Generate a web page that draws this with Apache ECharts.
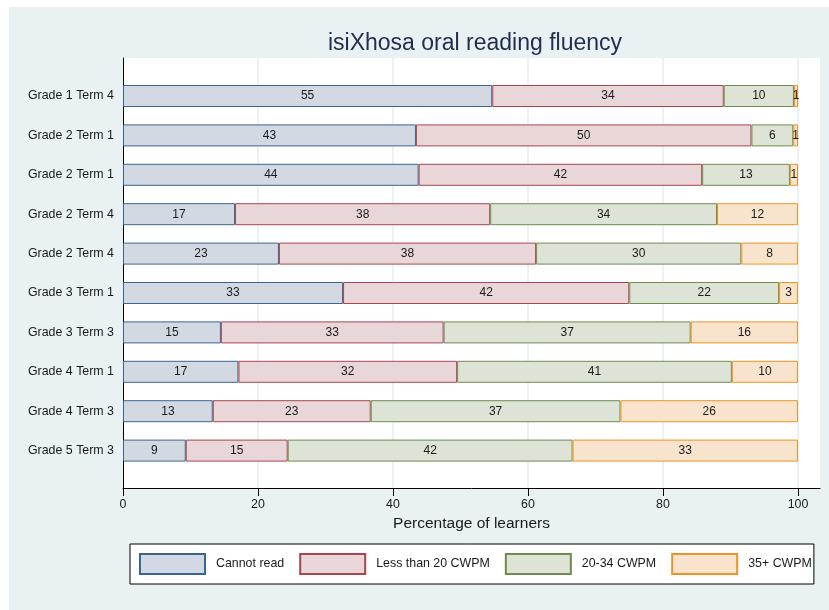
<!DOCTYPE html>
<html>
<head>
<meta charset="utf-8">
<script src="https://cdn.jsdelivr.net/npm/echarts@6/dist/echarts.min.js"></script>
<style>
  html, body { margin: 0; padding: 0; background: #fff; }
  #chart { width: 829px; height: 610px; }
</style>
</head>
<body>
<div id="chart"></div>
<script>
// rows, top to bottom
const categories = [
  "Grade 1 Term 4", "Grade 2 Term 1", "Grade 2 Term 1", "Grade 2 Term 4", "Grade 2 Term 4",
  "Grade 3 Term 1", "Grade 3 Term 3", "Grade 4 Term 1", "Grade 4 Term 3", "Grade 5 Term 3"
];
const cannotRead = [54.7, 43.4, 43.8, 16.6, 23.1, 32.6, 14.5, 17.1, 13.3, 9.3];
const lessThan20 = [34.3, 49.7, 42.0, 37.8, 38.1, 42.4, 33.0, 32.4, 23.4, 15.1];
const from20to34 = [10.4, 6.2, 13.0, 33.6, 30.4, 22.2, 36.6, 40.7, 37.0, 42.2];
const over35 = [0.6, 0.7, 1.2, 12.0, 8.4, 2.8, 15.9, 9.8, 26.3, 33.4];
const xTicks = [0, 20, 40, 60, 80, 100];

const font = "'Liberation Sans', Arial, Helvetica, sans-serif";
const xMax = 697 / 6.75;

function barSeries(name, data, fill, border) {
  return {
    name: name,
    type: "bar",
    stack: "total",
    xAxisIndex: 1,
    yAxisIndex: 1,
    barWidth: 22,
    data: data,
    itemStyle: { color: fill, borderColor: border, borderWidth: 1 },
    label: {
      show: true,
      position: "inside",
      color: "#1a1a1a",
      fontFamily: font,
      fontSize: 12,
      formatter: (p) => Math.round(p.value)
    }
  };
}

const chart = echarts.init(document.getElementById("chart"));

chart.setOption({
  backgroundColor: "#fff",
  animation: false,
  graphic: [{
    type: "rect",
    z: -10,
    shape: { x: 9, y: 7, width: 820, height: 603 },
    style: { fill: "#eaf1f3" }
  }],
  title: {
    text: "isiXhosa oral reading fluency",
    left: 470,
    textAlign: "center",
    top: 27,
    textStyle: { fontFamily: font, fontSize: 23, fontWeight: "normal", color: "#1f2d4e" }
  },
  legend: {
    left: 130,
    top: 544,
    padding: [9, 2, 9, 9],
    itemWidth: 65,
    itemHeight: 20,
    itemGap: 15,
    backgroundColor: "#fff",
    borderColor: "#000",
    borderWidth: 1,
    borderRadius: 0,
    icon: "rect",
    textStyle: { fontFamily: font, fontSize: 12.4, color: "#1a1a1a", padding: [0, 0, 0, 6] },
    data: ["Cannot read", "Less than 20 CWPM", "20-34 CWPM", "35+ CWPM"]
  },
  grid: [
    { left: 123, top: 58, width: 697, height: 430, show: true, backgroundColor: "#fff", borderWidth: 0 },
    { left: 123, top: 76.3, width: 697, height: 394 }
  ],
  xAxis: [
    {
      gridIndex: 0,
      type: "value",
      min: 0,
      max: xMax,
      name: "Percentage of learners",
      nameLocation: "middle",
      nameGap: 27,
      nameTextStyle: { fontFamily: font, fontSize: 15.5, color: "#1a1a1a" },
      axisLine: { show: true, onZero: false, lineStyle: { color: "#000", width: 1 } },
      axisTick: { show: true, length: 8, customValues: xTicks, lineStyle: { color: "#000" } },
      axisLabel: { customValues: xTicks, margin: 11, fontFamily: font, fontSize: 12.4, color: "#1a1a1a" },
      splitLine: { show: true, lineStyle: { color: "#e6eef1", width: 1.5 } }
    },
    { gridIndex: 1, type: "value", min: 0, max: xMax, show: false }
  ],
  yAxis: [
    {
      gridIndex: 0,
      type: "value",
      min: 0,
      max: 1,
      axisLine: { show: true, onZero: false, lineStyle: { color: "#000", width: 1 } },
      axisTick: { show: false },
      axisLabel: { show: false },
      splitLine: { show: false }
    },
    {
      gridIndex: 1,
      type: "category",
      inverse: true,
      data: categories,
      axisLine: { show: false },
      axisTick: { show: false },
      axisLabel: { margin: 9, fontFamily: font, fontSize: 12.4, color: "#1a1a1a" }
    }
  ],
  series: [
    barSeries("Cannot read", cannotRead, "#d2d9e2", "#3a6591"),
    barSeries("Less than 20 CWPM", lessThan20, "#e8d6d8", "#a8454f"),
    barSeries("20-34 CWPM", from20to34, "#dde3d5", "#6d8c4e"),
    barSeries("35+ CWPM", over35, "#f8e4cc", "#ee9226")
  ]
});
</script>
</body>
</html>
